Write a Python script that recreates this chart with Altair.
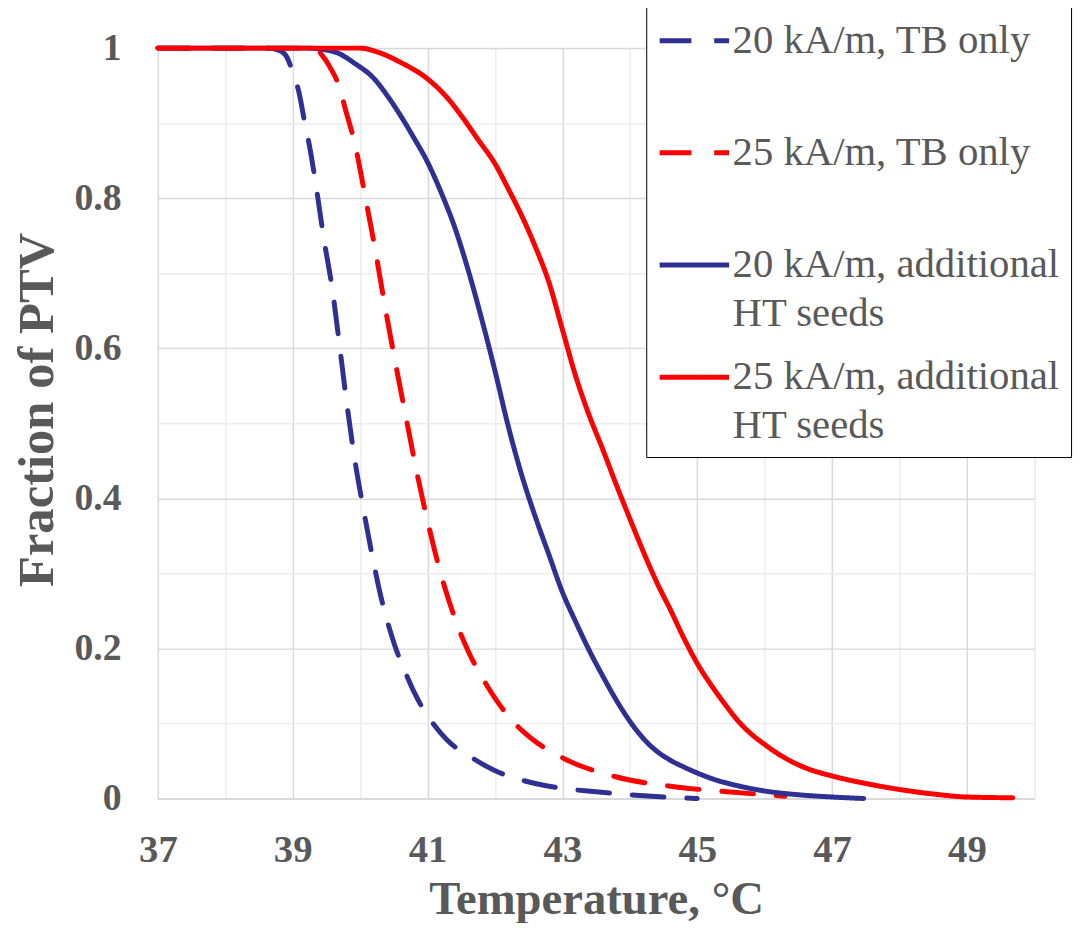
import altair as alt
import pandas as pd

# ---- data ----
series_names = [
    "20 kA/m, TB only",
    "25 kA/m, TB only",
    "20 kA/m, additional|HT seeds",
    "25 kA/m, additional|HT seeds",
]
series_colors = ["#2E3192", "#FF0000", "#2E3192", "#FF0000"]
series_dashes = [[32, 23], [32, 23], [1, 0], [1, 0]]

t_20_tb = [37.0, 38.0, 38.6, 38.8, 38.9, 39.0, 39.09, 39.19, 39.25, 39.34, 39.46, 39.59,
           39.70, 39.80, 39.92, 40.06, 40.21, 40.30, 40.43, 40.51, 40.70, 40.81, 41.09,
           41.29, 41.70, 41.98, 42.46, 42.76, 43.05, 43.5, 44.0, 44.5, 45.0]
f_20_tb = [1.0, 1.0, 1.0, 0.997, 0.99, 0.968, 0.942, 0.895, 0.869, 0.82, 0.747, 0.677,
           0.60, 0.528, 0.452, 0.38, 0.31, 0.272, 0.228, 0.205, 0.162, 0.14, 0.099,
           0.078, 0.052, 0.038, 0.023, 0.017, 0.013, 0.009, 0.005, 0.002, 0.0]

t_25_tb = [37.0, 38.5, 39.2, 39.35, 39.44, 39.55, 39.70, 39.78, 39.92, 40.08, 40.23, 40.37,
           40.52, 40.68, 40.84, 41.02, 41.21, 41.33, 41.48, 41.61, 41.85, 42.02, 42.35,
           42.57, 43.05, 43.79, 44.63, 45.45, 46.3]
f_25_tb = [1.0, 1.0, 1.0, 0.998, 0.99, 0.975, 0.946, 0.919, 0.873, 0.80, 0.728, 0.655,
           0.582, 0.508, 0.435, 0.362, 0.295, 0.26, 0.222, 0.195, 0.155, 0.131, 0.095,
           0.078, 0.052, 0.029, 0.016, 0.009, 0.003]

t_20_ht = [37.0, 38.5, 39.2, 39.62, 39.93, 40.2, 40.4, 40.6, 40.8, 41.0, 41.2, 41.4, 41.6,
           41.8, 42.0, 42.2, 42.4, 42.6, 42.8, 43.0, 43.2, 43.4, 43.6, 43.8, 44.0, 44.2,
           44.4, 44.6, 44.8, 45.0, 45.3, 45.6, 46.0, 46.5, 47.0, 47.47]
f_20_ht = [1.0, 1.0, 1.0, 0.995, 0.979, 0.96, 0.937, 0.91, 0.88, 0.848, 0.808, 0.762, 0.705,
           0.64, 0.57, 0.495, 0.43, 0.375, 0.325, 0.275, 0.235, 0.197, 0.163, 0.131, 0.103, 0.08,
           0.063, 0.051, 0.042, 0.034, 0.024, 0.017, 0.01, 0.005, 0.002, 0.0]

t_25_ht = [37.0, 39.0, 40.0, 40.25, 40.6, 41.0, 41.3, 41.5, 41.75, 42.0, 42.2, 42.4, 42.6,
           42.8, 43.0, 43.2, 43.4, 43.6, 43.8, 44.0, 44.2, 44.4, 44.6, 44.8, 45.0, 45.2,
           45.4, 45.6, 45.8, 46.0, 46.3, 46.6, 47.0, 47.5, 48.0, 48.5, 49.0, 49.68]
f_25_ht = [1.0, 1.0, 1.0, 0.995, 0.981, 0.959, 0.933, 0.91, 0.878, 0.846, 0.812, 0.776, 0.735,
           0.688, 0.625, 0.562, 0.51, 0.465, 0.418, 0.373, 0.329, 0.288, 0.252, 0.214, 0.18, 0.152,
           0.127, 0.104, 0.086, 0.072, 0.054, 0.041, 0.03, 0.02, 0.012, 0.006, 0.002, 0.001]

x_ticks = list(range(37, 51))
y_ticks = [0.0, 0.1, 0.2, 0.3, 0.4, 0.5, 0.6, 0.7, 0.8, 0.9, 1.0]

# ---- table built from the arrays ----
frames = []
for name, ts, fs in zip(series_names,
                        [t_20_tb, t_25_tb, t_20_ht, t_25_ht],
                        [f_20_tb, f_25_tb, f_20_ht, f_25_ht]):
    frames.append(pd.DataFrame({"T": ts, "F": fs, "series": name}))
df = pd.concat(frames, ignore_index=True)
df["order"] = df.index

FONT = "Liberation Serif"
GREY = "#595959"

legend = alt.Legend(
    title=None,
    orient="none",
    legendX=492,
    legendY=-42,
    strokeColor="black",
    fillColor="white",
    padding=11,
    symbolType="M-1,0L2.3333,0",
    symbolSize=1764,
    symbolStrokeWidth=5,
    labelFont=FONT,
    labelFontSize=41,
    labelColor=GREY,
    labelOffset=29,
    labelLimit=600,
    rowPadding=20,
    gridAlign="all",
    labelBaseline="middle",
    labelExpr="split(datum.label, '|')",
)

chart = alt.Chart(df).mark_line(strokeWidth=5, interpolate="monotone", strokeCap="round").encode(
    x=alt.X(
        "T:Q",
        scale=alt.Scale(domain=[37, 50], nice=False, zero=False),
        axis=alt.Axis(
            values=x_ticks,
            title="Temperature, °C",
            labelExpr="datum.value % 2 == 1 ? datum.label : ''",
            labelFlush=False,
            gridColor={"condition": {"test": "datum.value % 2 == 1", "value": "#d9d9d9"}, "value": "#ededed"},
            gridWidth=1.5,
            ticks=False,
            tickSize=0,
            domain=True,
            domainColor="#d9d9d9",
            domainWidth=2,
            labelFont=FONT,
            labelFontSize=39,
            labelFontWeight="bold",
            labelColor=GREY,
            labelPadding=32,
            titleFont=FONT,
            titleFontSize=47,
            titleFontWeight="bold",
            titleColor=GREY,
            titleY=116,
            titleBaseline="alphabetic",
        ),
    ),
    y=alt.Y(
        "F:Q",
        scale=alt.Scale(domain=[0, 1], nice=False),
        axis=alt.Axis(
            values=y_ticks,
            format="~g",
            title="Fraction of PTV",
            labelExpr="round(datum.value * 10) % 2 == 0 ? datum.label : ''",
            labelFlush=False,
            gridColor={"condition": {"test": "round(datum.value * 10) % 2 == 0", "value": "#d9d9d9"}, "value": "#ededed"},
            gridWidth=1.5,
            ticks=False,
            tickSize=0,
            domain=False,
            labelFont=FONT,
            labelFontSize=38,
            labelFontWeight="bold",
            labelColor=GREY,
            labelPadding=37,
            titleFont=FONT,
            titleFontSize=51,
            titleFontWeight="bold",
            titleColor=GREY,
            titleX=-106,
            titleY=364,
            titleBaseline="alphabetic",
        ),
    ),
    color=alt.Color("series:N", scale=alt.Scale(domain=series_names, range=series_colors), legend=legend),
    strokeDash=alt.StrokeDash("series:N", scale=alt.Scale(domain=series_names, range=series_dashes), legend=legend),
    order="order:Q",
).properties(
    width=883,
    height=756,
    autosize=alt.AutoSizeParams(type="none"),
    padding={"left": 151, "top": 37, "right": 44, "bottom": 122},
).configure_view(stroke=None).configure(
    background="white",
    style={"guide-label": {"lineHeight": 49}},
)

chart.save("out.html", embed_options={"renderer": "svg", "actions": False})
